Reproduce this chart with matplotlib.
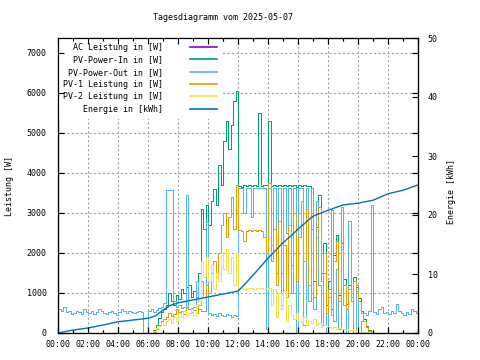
import numpy as np
import matplotlib
matplotlib.use('Agg')
import matplotlib.pyplot as plt
from matplotlib.ticker import MultipleLocator

plt.rcParams['font.family'] = ['DejaVu Sans Mono']
plt.rcParams['font.size'] = 6

# Zeitachsen in Stunden (10-Minuten-Raster)
full_hours = np.arange(0, 145) / 6.0      # 00:00 .. 24:00
day_hours = np.arange(36, 127) / 6.0      # 06:00 .. 21:00

# PV-Power-Out [W], 00:00 .. 24:00
pv_out = [
    600, 550, 650, 520, 560, 480,
    500, 560, 520, 480, 600, 520,
    500, 550, 470, 520, 600, 540,
    500, 470, 530, 560, 500, 460,
    520, 600, 540, 500, 560, 520,
    500, 520, 540, 520, 0, 0,
    560, 600, 520, 580, 620, 650,
    750, 3575, 3575, 3575, 800, 650,
    700, 620, 650, 3450, 600, 620,
    580, 1300, 600, 550, 550, 2775,
    500, 450, 480, 420, 500, 450,
    420, 480, 450, 400, 460, 430,
    3620, 3620, 3000, 3620, 3620, 2900,
    3620, 3620, 3620, 3620, 3620, 100,
    3620, 2200, 3620, 1500, 3620, 700,
    3620, 2500, 3620, 1000, 3620, 0,
    3620, 3620, 200, 3620, 800, 3620,
    600, 3300, 1200, 200, 1500, 0,
    900, 3075, 300, 1600, 100, 3150,
    700, 0, 2800, 900, 0, 1200,
    0, 300, 500, 450, 550, 3200,
    520, 480, 600, 650, 500, 520,
    480, 550, 500, 720, 560, 500,
    450, 520, 480, 600, 550, 500,
    560,
]

# AC Leistung liegt praktisch deckungsgleich unter PV-Power-Out
ac_power = list(pv_out)

# PV-Power-In [W], 06:00 .. 21:00
pv_in = [
    0, 0, 80, 200, 380, 520,
    600, 700, 1000, 800, 700, 950,
    850, 1100, 1000, 1150, 1200, 900,
    1050, 900, 1500, 3100, 2600, 3200,
    2700, 3300, 3600, 3200, 4200, 3700,
    4800, 5300, 4600, 5200, 5800, 6050,
    3680, 3660, 3690, 3670, 3700, 3680,
    3690, 3670, 5500, 3680, 3700, 3690,
    5300, 3680, 3690, 3670, 3700, 3680,
    3690, 3670, 3700, 3680, 3690, 3660,
    3700, 3680, 3690, 3670, 3680, 2900,
    1300, 2650, 3450, 1500, 2250, 700,
    1300, 600, 1950, 2450, 950, 2250,
    1350, 720, 1200, 900, 1400, 1150,
    880, 560, 340, 180, 70, 0,
    0,
]

# PV-1 Leistung [W], 06:00 .. 21:00
pv1 = [
    0, 0, 30, 100, 200, 300,
    350, 400, 500, 420, 480, 600,
    520, 560, 480, 650, 600, 520,
    650, 500, 700, 1300, 900, 1200,
    1000, 1500, 1800, 1400, 2000, 2700,
    3000, 2400, 2900, 3400, 2600, 3700,
    2575, 2560, 2300, 2560, 2575, 2560,
    2570, 2560, 2575, 2560, 2400, 2000,
    3750, 1800, 2600, 1200, 2800, 1500,
    2200, 900, 2700, 1700, 3000, 1300,
    2400, 3300, 1800, 3100, 1200, 2600,
    900, 2400, 3150, 1300, 2000, 500,
    1100, 450, 1800, 2300, 800, 2100,
    1200, 600, 1100, 800, 1300, 1050,
    800, 500, 300, 150, 60, 0,
    0,
]

# PV-2 Leistung [W], 06:00 .. 21:00
pv2 = [
    0, 0, 50, 120, 180, 250,
    200, 300, 350, 250, 400, 300,
    500, 400, 550, 450, 500, 600,
    450, 700, 800, 1800, 1400, 1900,
    1300, 1700, 1100, 1500, 1300, 1950,
    1600, 2100, 1500, 1900, 1200, 2000,
    1125, 1125, 1110, 1125, 1120, 1125,
    1110, 1125, 1120, 1125, 1110, 1100,
    1125, 700, 1100, 400, 1000, 600,
    1050, 300, 700, 450, 350, 500,
    300, 250, 400, 200, 300, 250,
    350, 200, 250, 150, 200, 150,
    150, 120, 150, 100, 120, 100,
    100, 90, 80, 80, 70, 60,
    50, 40, 30, 20, 0, 0,
    0,
]

# Energie [kWh]
energy_hours = [0, 1, 2, 3, 4, 5, 6, 6.5, 7, 7.5, 8, 9, 10, 11, 12, 12.5, 13,
                13.5, 14, 14.5, 15, 15.5, 16, 16.5, 17, 17.5, 18, 19, 20, 21,
                22, 23, 24]
energy = [0, 0.5, 0.85, 1.35, 1.9, 2.2, 2.5, 2.9, 3.9, 4.7, 5.1, 5.6, 6.1,
          6.6, 7.1, 8.4, 9.8, 11.2, 12.7, 14.0, 15.3, 16.4, 17.6, 18.7, 19.8,
          20.3, 20.8, 21.7, 22.0, 22.5, 23.6, 24.2, 25.1]

x_tick_labels = ['00:00', '02:00', '04:00', '06:00', '08:00', '10:00', '12:00',
                 '14:00', '16:00', '18:00', '20:00', '22:00', '00:00']

fig = plt.figure(figsize=(4.8, 3.6), dpi=100)
pos = [58 / 480, 27 / 360, 360 / 480, 295 / 360]
ax = fig.add_axes(pos)
ax2 = ax.twinx()

# 1-Pixel-Stufenlinien ohne Kantenglättung (wie gnuplot png)
step = dict(lw=0.72, drawstyle='steps-post', antialiased=False)
l1, = ax.plot(full_hours, ac_power, color='#9400d3', label='AC Leistung in [W]', **step)
l2, = ax.plot(day_hours, pv_in, color='#009e73', label='PV-Power-In in [W]', **step)
l3, = ax.plot(full_hours, pv_out, color='#56b4e9', label='PV-Power-Out in [W]', **step)
l4, = ax.plot(day_hours, pv1, color='#e69f00', label='PV-1 Leistung in [W]', **step)
l5, = ax.plot(day_hours, pv2, color='#f0e442', label='PV-2 Leistung in [W]', **step)
l6, = ax2.plot(energy_hours, energy, color='#0072b2', lw=1.0,
               label='Energie in [kWh]', zorder=1.5)

ax.set_xlim(0, 24)
ax.set_ylim(0, 7375)
ax2.set_ylim(0, 50)

ax.set_xticks(range(0, 25, 2))
ax.set_xticklabels(x_tick_labels)
ax.xaxis.set_minor_locator(MultipleLocator(1))
ax.set_yticks(range(0, 7001, 1000))
ax2.set_yticks(range(0, 51, 10))

ax.tick_params(which='both', direction='in', top=True, right=True, width=0.8)
ax.tick_params(which='major', length=4)
ax.tick_params(which='minor', length=2)
ax.tick_params(axis='y', pad=8)
ax.tick_params(axis='x', pad=5)
ax2.tick_params(direction='in', length=4, width=0.8, pad=7)

ax.grid(True, which='major', color='#a0a0a0', linestyle=(0, (2, 2)), lw=0.8)
ax.set_axisbelow(True)
for sp in list(ax.spines.values()) + list(ax2.spines.values()):
    sp.set_linewidth(0.8)

handles = [l1, l2, l3, l4, l5, l6]
leg = ax2.legend(handles, [h.get_label() for h in handles],
                 loc='upper left', bbox_to_anchor=(0, 1), borderaxespad=0,
                 markerfirst=False, handlelength=3.3, handletextpad=3.2,
                 labelspacing=0.4, borderpad=0.6, frameon=True, fancybox=False,
                 edgecolor='none', facecolor='white', framealpha=1)
leg.set_zorder(2)
for line in leg.get_lines():
    line.set_linewidth(1.2)
    line.set_antialiased(True)

# transparente Deckachse, damit Rahmen und Ticks über dem Legendenkasten liegen
ax3 = fig.add_axes(pos, sharex=ax, sharey=ax)
ax3.patch.set_visible(False)
ax3.tick_params(which='both', direction='in', top=True, right=True, width=0.8,
                labelleft=False, labelbottom=False)
ax3.tick_params(which='major', length=4)
ax3.tick_params(which='minor', length=2)
for sp in ax3.spines.values():
    sp.set_linewidth(0.8)

fig.text(223 / 480, 1 - 17 / 360, 'Tagesdiagramm vom 2025-05-07', ha='center', va='center')
fig.text(10 / 480, 1 - 186 / 360, 'Leistung [W]', rotation=90, ha='center', va='center')
fig.text(452 / 480, 1 - 192 / 360, 'Energie [kWh]', rotation=90, ha='center', va='center')

fig.savefig('out.png', dpi=100)
